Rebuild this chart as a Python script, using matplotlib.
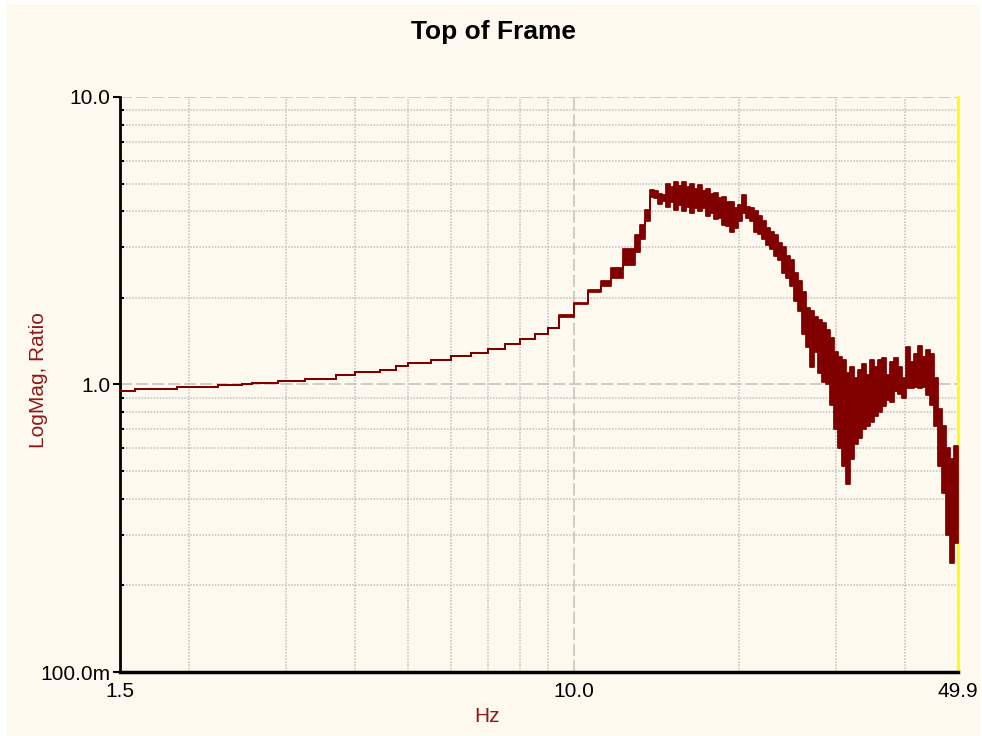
import matplotlib.pyplot as plt
from matplotlib.patches import Rectangle

plt.rcParams['font.family'] = ['Liberation Sans', 'DejaVu Sans']

# frequency response, lower/upper edge of the trace at each frequency (Hz, ratio)
freq = [1.5, 1.6, 1.9, 2.26, 2.5, 2.6, 2.9, 3.25, 3.7, 4.0, 4.45, 4.75, 5.0,
        5.5, 6.0, 6.5, 7.0, 7.5, 8.0, 8.5, 9.0, 9.4, 10.0, 10.6, 11.2, 11.7,
        12.3, 12.9, 13.2, 13.48,
        13.76, 14.0, 14.23, 14.47, 14.72, 14.96, 15.22, 15.47, 15.73, 16.0,
        16.27, 16.54, 16.82, 17.11, 17.39, 17.69, 17.99, 18.29, 18.6, 18.92,
        19.23, 19.56, 19.89, 20.22, 20.56, 20.91, 21.27, 21.63, 21.99, 22.36,
        22.74, 23.12, 23.51, 23.91, 24.31, 24.72, 25.14, 25.56, 25.99, 26.43,
        26.88, 27.33, 27.8, 28.26, 28.73, 29.22, 29.71, 30.21, 30.72, 31.24,
        31.77, 32.3, 32.85, 33.4, 33.96, 34.53, 35.12, 35.71, 36.31, 36.92,
        37.54, 38.17, 38.81, 39.47, 40.13, 40.81, 41.49, 42.2, 42.91, 43.63,
        44.36, 45.11, 45.87, 46.64, 47.43, 48.23, 49.04, 49.9]
mag_lo = [0.951, 0.964, 0.98, 0.994, 1.0, 1.015, 1.026, 1.043, 1.077, 1.105,
          1.12, 1.16, 1.19, 1.22, 1.26, 1.29, 1.33, 1.38, 1.44, 1.5, 1.57,
          1.72, 1.9, 2.1, 2.2, 2.35, 2.6, 2.9, 3.2, 3.7,
          4.5, 4.45, 4.25, 4.35, 4.15, 4.3, 4.05, 4.2, 4.0, 4.15,
          3.95, 4.1, 4.0, 4.1, 3.85, 3.95, 3.75, 3.8, 3.6, 3.55,
          3.4, 3.5, 3.7, 3.95, 3.8, 3.7, 3.4, 3.35, 3.2, 3.05,
          2.95, 2.8, 2.7, 2.45, 2.35, 2.2, 1.95, 1.8, 1.5, 1.35,
          1.15, 1.3, 1.1, 1.02, 1.0, 0.85, 0.7, 0.6, 0.52, 0.45,
          0.55, 0.62, 0.65, 0.7, 0.72, 0.74, 0.78, 0.8, 0.84, 0.88,
          0.87, 0.95, 0.93, 0.9, 0.97, 0.97, 0.98, 0.97, 0.98, 0.92,
          0.85, 0.72, 0.52, 0.42, 0.3, 0.24, 0.28, 0.3]
mag_hi = [0.951, 0.964, 0.98, 0.994, 1.0, 1.015, 1.026, 1.043, 1.077, 1.105,
          1.12, 1.16, 1.19, 1.22, 1.26, 1.29, 1.33, 1.38, 1.44, 1.5, 1.57,
          1.74, 1.92, 2.13, 2.3, 2.55, 2.95, 3.3, 3.6, 4.05,
          4.75, 4.7, 4.6, 4.55, 5.0, 4.85, 5.06, 4.9, 5.06, 4.85,
          5.0, 4.8, 4.94, 4.7, 4.8, 4.6, 4.65, 4.45, 4.5, 4.3,
          4.3, 4.1, 4.2, 4.56, 4.15, 4.1, 4.0, 3.85, 3.7, 3.5,
          3.4, 3.3, 3.1, 3.0, 2.8, 2.7, 2.45, 2.3, 2.1, 1.85,
          1.8, 1.72, 1.68, 1.64, 1.55, 1.45, 1.3, 1.25, 1.22, 1.1,
          1.15, 1.05, 1.12, 1.18, 1.08, 1.22, 1.15, 1.22, 1.24, 1.08,
          1.2, 1.24, 1.15, 1.05, 1.35, 1.2, 1.28, 1.36, 1.25, 1.32,
          1.28, 1.05, 0.82, 0.72, 0.6, 0.55, 0.61, 0.61]

x_ticks = [1.5, 10.0, 49.9]
x_labels = ['1.5', '10.0', '49.9']
x_minor = [2, 3, 4, 5, 6, 7, 8, 9, 20, 30, 40]
y_ticks = [0.1, 1.0, 10.0]
y_labels = ['100.0m', '1.0', '10.0']
y_minor = [0.2, 0.3, 0.4, 0.5, 0.6, 0.7, 0.8, 0.9, 2, 3, 4, 5, 6, 7, 8, 9]

cream = '#fdf9ee'
trace = '#800000'
label_red = '#8c1a1a'
grid_gray = '#c0c0c0'

fig = plt.figure(figsize=(9.82, 7.36), dpi=100, facecolor='white')
fig.patches.append(Rectangle((7 / 982, 0), 973 / 982, 732 / 736,
                             transform=fig.transFigure, facecolor=cream,
                             edgecolor='none', zorder=-5))

ax = fig.add_axes([120 / 982, 1 - 672 / 736, 838 / 982, 575 / 736])
ax.set_facecolor(cream)
ax.set_xscale('log')
ax.set_yscale('log')
ax.set_xlim(1.5, 49.9)
ax.set_ylim(0.1, 10.0)

ax.fill_between(freq, mag_lo, mag_hi, step='post', facecolor=trace,
                edgecolor=trace, linewidth=1.3, zorder=3)

ax.set_xticks(x_ticks)
ax.set_xticklabels(x_labels)
ax.set_xticks(x_minor, minor=True)
ax.set_xticklabels([], minor=True)
ax.set_yticks(y_ticks)
ax.set_yticklabels(y_labels)
ax.set_yticks(y_minor, minor=True)
ax.set_yticklabels([], minor=True)

ax.grid(True, which='major', color=grid_gray, linestyle=(0, (8, 2.5)), linewidth=1.1)
ax.grid(True, which='minor', color=grid_gray, linestyle=(0, (1, 1)), linewidth=1.1)
ax.set_axisbelow(True)

ax.tick_params(axis='x', which='both', length=0, labelsize=15, pad=7)
ax.tick_params(axis='y', which='major', direction='out', length=5, width=1.5,
               labelsize=15, pad=2)
ax.tick_params(axis='y', which='minor', direction='in', length=3, width=1.5)

ax.spines['top'].set_visible(False)
ax.spines['left'].set_linewidth(2)
ax.spines['bottom'].set_linewidth(2.5)
ax.spines['right'].set_color('#ffff00')
ax.spines['right'].set_linewidth(2)

fig.text(0.503, 1 - 32 / 736, 'Top of Frame', ha='center', va='center',
         fontsize=19, fontweight='bold')
fig.text(38 / 982, 1 - 380 / 736, 'LogMag, Ratio', ha='center', va='center',
         rotation=90, fontsize=15, color=label_red)
fig.text(487 / 982, 1 - 716 / 736, 'Hz', ha='center', va='center',
         fontsize=15, color=label_red)

fig.savefig('out.png', dpi=100, facecolor='white')
